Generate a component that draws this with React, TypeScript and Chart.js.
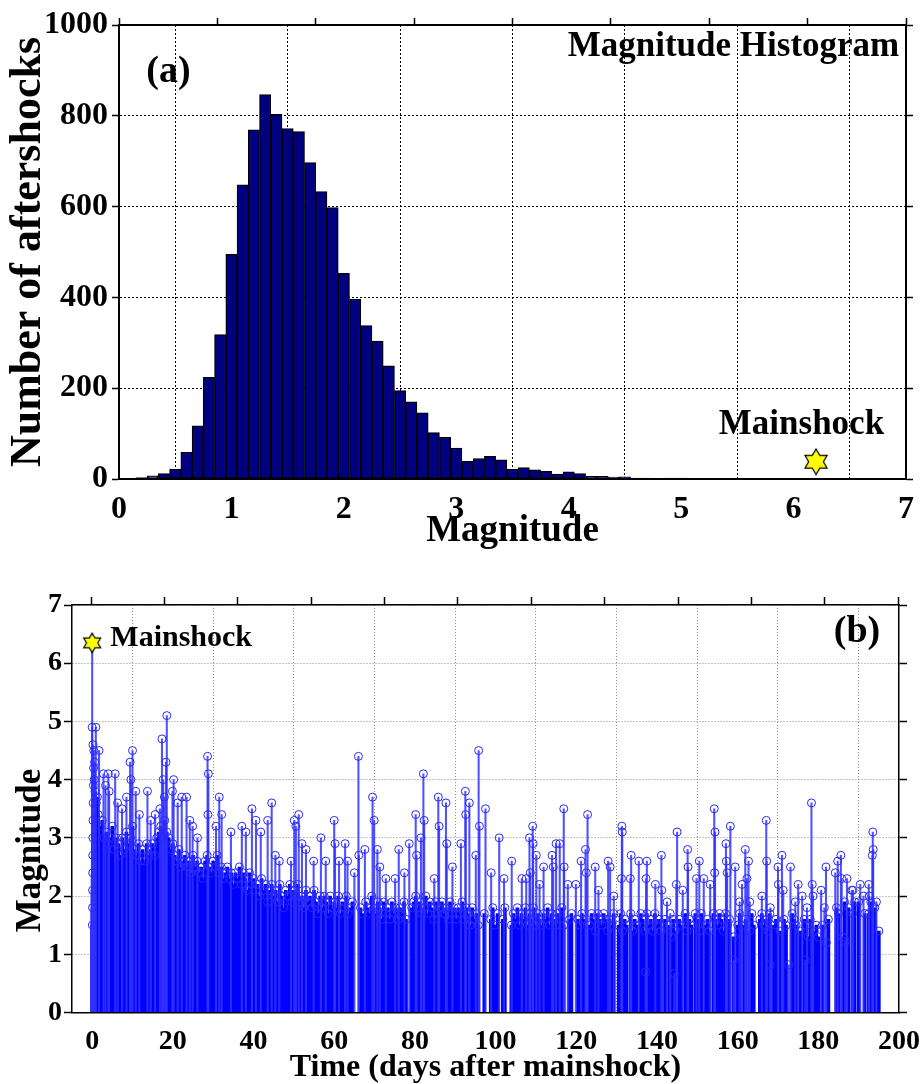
import React, { useEffect, useRef } from "react";
import { Chart, registerables } from "chart.js";
Chart.register(...registerables);

const FONT = "'Liberation Serif', 'Times New Roman', serif";

// ---------------- Panel (a): magnitude histogram ----------------
const histBinCenters = [
  0.1, 0.2, 0.3, 0.4, 0.5, 0.6, 0.7, 0.8, 0.9, 1.0,
  1.1, 1.2, 1.3, 1.4, 1.5, 1.6, 1.7, 1.8, 1.9, 2.0,
  2.1, 2.2, 2.3, 2.4, 2.5, 2.6, 2.7, 2.8, 2.9, 3.0,
  3.1, 3.2, 3.3, 3.4, 3.5, 3.6, 3.7, 3.8, 3.9, 4.0,
  4.1, 4.2, 4.3, 4.4, 4.5, 4.6, 4.7, 4.8, 4.9, 5.0, 5.1,
];
const histCounts = [
  1, 3, 7, 12, 22, 59, 117, 224, 318, 495,
  648, 769, 847, 803, 772, 765, 697, 633, 598, 453,
  396, 338, 304, 249, 195, 170, 146, 102, 92, 68,
  39, 45, 50, 42, 22, 25, 20, 17, 11, 16,
  12, 6, 6, 4, 5, 2, 2, 1, 2, 2, 1,
];
const histTicksX = [0, 1, 2, 3, 4, 5, 6, 7];
const histTicksY = [0, 200, 400, 600, 800, 1000];
const mainshockMagnitude = 6.2;
const mainshockHistLevel = 38;

// ---------------- Panel (b): magnitude vs time ----------------
const timeTicks = [0, 20, 40, 60, 80, 100, 120, 140, 160, 180, 200];
const magTicks = [0, 1, 2, 3, 4, 5, 6, 7];
const mainshockDay = 0;
const mainshockMag = 6.35;

// prominent individual events (day, magnitude)
const peakDays = [
  0.0, 0.9, 0.2, 0.4, 0.6, 1.7, 2.8, 4.0, 5.7, 4.2, 3.3, 6.3, 7.4, 8.5, 10.0, 9.4, 9.6, 10.8, 11.7, 13.7,
  14.5, 15.6, 16.8, 17.3, 18.5, 18.3, 17.6, 17.9, 20.2, 19.9, 21.2, 22.2, 23.4, 24.2, 24.9, 26.1, 28.6, 28.8, 28.7, 31.5,
  32.1, 30.7, 34.4, 37.1, 38.1, 39.6, 40.6, 41.8, 43.5, 44.5, 45.4, 46.4, 49.3, 50.1, 50.5, 51.2, 52.0, 53.0, 54.9, 56.7,
  57.9, 60.0, 60.2, 61.2, 62.7, 63.3, 65.0, 66.0, 66.1, 67.6, 69.5, 69.9, 70.7, 71.3, 72.8, 75.1, 76.0, 77.4, 78.6, 80.2,
  80.4, 81.5, 82.1, 82.3, 84.8, 85.8, 86.0, 87.7, 87.9, 89.3, 91.4, 92.5, 92.6, 93.5, 95.1, 95.8, 96.0, 97.5, 98.9,
  100.9, 102.1, 104.0, 106.5, 107.6, 108.4, 108.6, 109.2, 109.3, 110.1, 110.9, 111.9, 114.0, 114.3, 115.0, 115.9, 116.9, 117.0, 117.9, 119.9,
  121.2, 122.3, 122.8, 122.5, 124.7, 125.5, 127.9, 128.4, 129.3, 131.3, 131.4, 131.2, 133.4, 133.6, 135.5, 137.5, 137.3, 139.6, 141.1, 141.2,
  142.5, 143.3, 145.0, 144.8, 146.4, 147.6, 147.7, 149.8, 150.5, 151.6, 153.2, 154.2, 154.4, 154.3, 157.1, 157.2, 157.4, 158.2, 159.4, 160.5,
  161.1, 161.9, 162.3, 162.7, 163.0, 166.0, 167.1, 167.2, 168.1, 170.0, 170.1, 171.0, 171.3, 173.1, 174.3, 175.0, 176.0, 177.2, 178.3, 178.5,
  178.7, 180.7, 181.5, 181.9, 184.2, 184.8, 185.6, 185.8, 187.1, 188.3, 188.6, 190.4, 191.2, 192.5, 192.6, 193.5, 193.6, 193.4, 194.4,
];
const peakMags = [
  4.9, 4.9, 4.6, 4.5, 4.3, 4.5, 4.1, 4.1, 4.1, 3.8, 3.9, 3.6, 3.5, 3.7, 4.5, 4.3, 4.0, 3.8, 3.4, 3.8,
  3.3, 3.4, 3.5, 4.7, 5.1, 4.3, 4.0, 3.7, 4.0, 3.8, 3.6, 3.7, 3.7, 3.3, 3.2, 3.0, 4.4, 4.1, 3.4, 3.7,
  3.4, 3.2, 3.1, 3.2, 3.1, 3.5, 3.3, 3.1, 3.3, 3.6, 2.7, 2.6, 2.6, 3.3, 3.2, 3.4, 2.9, 2.8, 2.6, 3.0,
  2.6, 3.3, 2.9, 2.6, 2.9, 2.6, 2.4, 4.4, 2.7, 2.8, 3.7, 3.3, 2.8, 2.5, 2.3, 2.3, 2.8, 2.4, 2.9, 3.4,
  2.7, 3.0, 4.1, 3.3, 2.3, 3.7, 3.2, 3.6, 2.9, 2.5, 2.9, 3.8, 3.4, 3.6, 2.7, 4.5, 3.2, 3.5, 2.4,
  3.0, 2.3, 2.6, 2.3, 2.3, 3.0, 2.4, 3.2, 2.9, 2.7, 2.2, 2.5, 2.7, 2.5, 2.9, 2.9, 3.5, 2.5, 2.2, 2.2,
  2.6, 2.8, 3.4, 2.4, 2.5, 2.1, 2.6, 2.5, 2.0, 3.2, 3.1, 2.3, 2.3, 2.7, 2.6, 2.6, 2.3, 2.2, 2.7, 2.1,
  1.9, 1.7, 3.1, 2.2, 2.1, 2.8, 2.5, 2.3, 2.6, 2.3, 2.2, 3.5, 3.1, 2.4, 2.9, 2.6, 2.4, 3.2, 2.5, 1.9,
  2.2, 2.8, 2.3, 2.6, 1.9, 2.0, 3.3, 2.6, 1.8, 2.5, 2.2, 2.7, 2.1, 2.5, 1.9, 2.2, 2.0, 1.8, 3.6, 2.2,
  2.0, 2.1, 1.8, 2.5, 2.4, 2.6, 2.7, 2.3, 2.3, 2.1, 2.1, 2.2, 2.0, 2.2, 2.0, 3.1, 2.8, 2.7, 1.9,
];

// small events visible low in the tail
const lowDays = [137.2, 144.3, 159.0, 168.1, 172.7, 176.8, 182.0, 186.7];
const lowMags = [0.7, 0.67, 0.9, 0.82, 0.82, 0.9, 1.2, 1.22];

// dense swarm of smaller events (day, magnitude)
const swarmFirst20Days: number[][] = [
  [0.05, 1.5], [0.08, 1.8], [0.1, 2.1], [0.12, 2.4], [0.15, 2.7], [0.18, 3.0], [0.2, 3.3], [0.25, 3.6], [0.3, 3.9], [0.35, 4.2],
  [0.5, 4.0], [0.7, 3.8], [1.0, 3.6], [1.3, 3.7], [1.5, 3.4], [2.0, 3.2], [2.5, 3.3], [3.0, 3.0], [3.5, 3.1], [4.0, 2.9],
  [4.5, 3.0], [5.0, 3.2], [5.5, 2.8], [6.0, 3.0], [6.5, 2.9], [7.0, 2.7], [7.5, 3.0], [8.0, 2.8], [8.5, 3.1], [9.0, 2.9],
  [9.5, 3.0], [10.0, 3.2], [10.5, 2.8], [11.0, 2.7], [11.5, 2.9], [12.0, 2.6], [12.5, 2.8], [13.0, 2.6], [13.5, 2.9], [14.0, 2.7],
  [14.5, 2.8], [15.0, 2.9], [15.5, 2.7], [16.0, 3.0], [16.5, 3.1], [17.0, 3.2], [17.5, 3.0], [18.0, 3.3], [18.5, 3.1], [19.0, 3.0],
  [19.5, 2.8], [20.0, 2.9],
];
const swarmDays20to60: number[][] = [
  [20.5, 2.7], [21, 2.6], [21.5, 2.8], [22, 2.5], [22.5, 2.6], [23, 2.7], [23.5, 2.5], [24, 2.6], [24.5, 2.4], [25, 2.7],
  [25.5, 2.5], [26, 2.6], [26.5, 2.4], [27, 2.5], [27.5, 2.3], [28, 2.6], [28.5, 2.7], [29, 2.5], [29.5, 2.4], [30, 2.6],
  [30.5, 2.5], [31, 2.7], [31.5, 2.4], [32, 2.5], [32.5, 2.3], [33, 2.4], [33.5, 2.5], [34, 2.3], [34.5, 2.4], [35, 2.2],
  [35.5, 2.4], [36, 2.3], [36.5, 2.5], [37, 2.2], [37.5, 2.4], [38, 2.3], [38.5, 2.1], [39, 2.4], [39.5, 2.2], [40, 2.3],
  [40.5, 2.1], [41, 2.2], [41.5, 2.0], [42, 2.3], [42.5, 2.1], [43, 2.2], [43.5, 1.9], [44, 2.1], [44.5, 2.2], [45, 2.0],
  [45.5, 2.1], [46, 1.9], [46.5, 2.2], [47, 2.0], [47.5, 1.8], [48, 2.1], [48.5, 2.0], [49, 2.2], [49.5, 1.9], [50, 2.1],
  [50.5, 2.0], [51, 2.2], [51.5, 1.9], [52, 2.0], [52.5, 1.8], [53, 2.1], [53.5, 1.9], [54, 2.0], [54.5, 1.8], [55, 2.1],
  [55.5, 1.9], [56, 1.7], [56.5, 2.0], [57, 1.8], [57.5, 2.0], [58, 1.9], [58.5, 1.7], [59, 2.0], [59.5, 1.8], [60, 1.9],
];
const swarmDays60to100: number[][] = [
  [60.5, 1.8], [61, 2.0], [61.5, 1.7], [62, 1.9], [62.5, 1.8], [63, 2.0], [63.5, 1.7], [64, 1.8], [64.5, 1.9], [66.5, 1.8],
  [67, 1.7], [67.8, 1.9], [68.3, 1.8], [68.8, 1.7], [69.3, 2.0], [69.8, 1.8], [70.3, 1.7], [70.8, 1.9], [71.3, 1.8], [71.8, 1.6],
  [72.3, 1.9], [72.8, 1.7], [73.3, 1.8], [73.8, 1.6], [74.3, 1.9], [74.8, 1.7], [75.3, 1.8], [75.8, 1.6], [76.3, 1.8], [76.8, 1.7],
  [77.3, 1.9], [77.8, 1.6], [79.2, 1.8], [79.7, 1.9], [80.2, 2.0], [80.7, 1.8], [81.2, 1.9], [81.7, 1.7], [82.2, 1.8], [82.7, 2.0],
  [83.2, 1.7], [83.7, 1.9], [84.2, 1.8], [84.7, 1.6], [85.2, 1.9], [85.7, 1.7], [86.2, 1.8], [86.7, 1.9], [87.2, 1.7], [87.7, 1.8],
  [88.2, 1.6], [88.7, 1.9], [89.2, 1.7], [89.7, 1.8], [90.2, 1.6], [90.7, 1.8], [91.2, 1.7], [91.7, 1.9], [92.2, 1.6], [92.7, 1.8],
  [93.2, 1.7], [93.7, 1.5], [94.2, 1.8], [94.7, 1.6], [95.2, 1.7], [95.7, 1.5], [97.2, 1.7], [98.8, 1.6], [99.3, 1.8], [99.8, 1.5],
];
const swarmDays100to130: number[][] = [
  [100.5, 1.7], [101.8, 1.6], [102.3, 1.8], [103.9, 1.5], [104.4, 1.7], [104.9, 1.6], [105.4, 1.8], [105.9, 1.5], [106.4, 1.7], [106.9, 1.6],
  [107.4, 1.8], [107.9, 1.5], [108.4, 1.7], [108.9, 1.6], [109.4, 1.8], [109.9, 1.5], [110.4, 1.7], [110.9, 1.6], [111.4, 1.5], [111.9, 1.7],
  [112.4, 1.6], [112.9, 1.8], [113.4, 1.5], [113.9, 1.7], [114.4, 1.6], [114.9, 1.5], [115.4, 1.7], [115.9, 1.6], [116.4, 1.8], [116.9, 1.5],
  [118.3, 1.6], [118.8, 1.7], [120.4, 1.6], [120.9, 1.5], [121.4, 1.7], [121.9, 1.6], [123.3, 1.5], [123.8, 1.7], [124.3, 1.6], [124.8, 1.4],
  [125.3, 1.7], [125.8, 1.6], [126.3, 1.5], [126.8, 1.7], [127.3, 1.6], [127.8, 1.4], [128.3, 1.6], [128.8, 1.5], [129.3, 1.7],
];
const swarmDays130to195: number[][] = [
  [130.5, 1.5], [131, 1.7], [131.5, 1.4], [132, 1.6], [132.5, 1.5], [133.5, 1.7], [134, 1.4], [134.5, 1.6], [135, 1.5], [136, 1.7],
  [136.5, 1.6], [137, 1.4], [137.5, 1.7], [138, 1.5], [138.5, 1.6], [139, 1.4], [139.5, 1.7], [140, 1.5], [140.5, 1.6], [141, 1.4],
  [142, 1.6], [143, 1.5], [143.5, 1.3], [144, 1.6], [144.5, 1.4], [145.5, 1.6], [146, 1.5], [147, 1.7], [147.5, 1.4], [148, 1.6],
  [148.5, 1.5], [149.5, 1.7], [150, 1.6], [150.5, 1.4], [151, 1.7], [152, 1.5], [152.5, 1.6], [153, 1.4], [154, 1.7], [154.5, 1.6],
  [155, 1.5], [155.5, 1.7], [156, 1.6], [156.5, 1.4], [157, 1.7], [157.5, 1.5], [158, 1.6], [159, 1.3], [160, 1.5], [160.5, 1.7],
  [161.5, 1.5], [162, 1.6], [163, 1.4], [163.5, 1.7], [164, 1.5], [165.5, 1.6], [166, 1.7], [166.5, 1.5], [167, 1.6], [167.5, 1.4],
  [168, 1.7], [169, 1.5], [169.5, 1.6], [170.5, 1.4], [171.5, 1.6], [172, 1.5], [173.5, 1.7], [174, 1.6], [174.5, 1.5], [175.5, 1.4],
  [176.5, 1.6], [177, 1.5], [177.5, 1.3], [178, 1.6], [179, 1.4], [179.5, 1.5], [180, 1.3], [181, 1.5], [182.5, 1.6], [184.5, 1.8],
  [185, 1.7], [186, 1.3], [186.5, 1.9], [187.5, 1.8], [188.5, 1.7], [189, 1.9], [190, 1.9], [191.5, 1.7], [192.5, 1.7], [193, 1.9],
  [194, 1.8], [195, 1.4],
];

// ---------------- helpers ----------------
function makeStar(size: number): HTMLCanvasElement {
  const c = document.createElement("canvas");
  c.width = size;
  c.height = size;
  const ctx = c.getContext("2d")!;
  const cx = size / 2;
  const cy = size / 2;
  const R = size / 2 - 1.2;
  const r = R / Math.sqrt(3);
  ctx.beginPath();
  for (let i = 0; i < 12; i++) {
    const ang = -Math.PI / 2 + (i * Math.PI) / 6;
    const rad = i % 2 === 0 ? R : r;
    const px = cx + rad * Math.cos(ang);
    const py = cy + rad * Math.sin(ang);
    if (i === 0) ctx.moveTo(px, py);
    else ctx.lineTo(px, py);
  }
  ctx.closePath();
  ctx.fillStyle = "#ffff00";
  ctx.fill();
  ctx.lineWidth = 1.2;
  ctx.strokeStyle = "#000000";
  ctx.stroke();
  return c;
}

type Note = { text: string; x: number; y: number; size: number; align: CanvasTextAlign };
function notesPlugin(id: string, notes: Note[]) {
  return {
    id,
    afterDraw(chart: any) {
      const { ctx, scales } = chart;
      const xs = scales.x;
      const ys = scales.y;
      notes.forEach((n) => {
        ctx.save();
        ctx.font = `bold ${n.size}px ${FONT}`;
        ctx.fillStyle = "#000";
        ctx.textAlign = n.align;
        ctx.textBaseline = "middle";
        ctx.fillText(n.text, xs.getPixelForValue(n.x), ys.getPixelForValue(n.y));
        ctx.restore();
      });
    },
  };
}

// vertical axis title drawn at a given offset from the chart area
function sideTitlePlugin(id: string, text: string, size: number, xPx: number, yFromBottom: number) {
  return {
    id,
    afterDraw(chart: any) {
      const { ctx, chartArea } = chart;
      ctx.save();
      ctx.translate(xPx, chartArea.bottom - yFromBottom);
      ctx.rotate(-Math.PI / 2);
      ctx.font = `bold ${size}px ${FONT}`;
      ctx.fillStyle = "#000";
      ctx.textAlign = "center";
      ctx.textBaseline = "middle";
      ctx.fillText(text, 0, 0);
      ctx.restore();
    },
  };
}

const fixTicks = (values: number[]) => (s: any) => {
  s.ticks = values.map((v) => ({ value: v }));
};
const plainLabel = (v: any) => String(v);

function configA(): any {
  const bars = histBinCenters.map((m, i) => ({ x: m, y: histCounts[i] }));
  const tickFont = { family: FONT, size: 32, weight: "bold" };
  return {
    type: "bar",
    data: {
      datasets: [
        {
          type: "scatter",
          data: [{ x: mainshockMagnitude, y: mainshockHistLevel }],
          pointStyle: makeStar(28),
          pointRadius: 14,
          order: 0,
        },
        {
          type: "bar",
          data: bars,
          backgroundColor: "#000080",
          borderColor: "#000000",
          borderWidth: 1.3,
          borderSkipped: false,
          barPercentage: 1,
          categoryPercentage: 1,
          grouped: false,
          order: 1,
        },
      ],
    },
    options: {
      responsive: false,
      animation: false,
      events: [],
      layout: { padding: 0 },
      plugins: { legend: { display: false }, tooltip: { enabled: false } },
      scales: {
        x: {
          type: "linear",
          position: "bottom",
          min: 0,
          max: 7,
          offset: false,
          afterBuildTicks: fixTicks(histTicksX),
          grid: { color: "#000", lineWidth: 1, drawTicks: false },
          border: { color: "#000", width: 2, dash: [2, 2], z: 1 },
          ticks: { font: tickFont, color: "#000", padding: 12, maxRotation: 0, autoSkip: false, callback: plainLabel },
          title: {
            display: true,
            text: "Magnitude",
            color: "#000",
            font: { family: FONT, size: 37, weight: "bold", lineHeight: 1 },
            padding: { top: 0, bottom: 5 },
          },
          afterFit: (s: any) => {
            s.height = 76;
            s.paddingLeft = 0;
            s.paddingRight = 0;
          },
        },
        x2: {
          type: "linear",
          position: "top",
          min: 0,
          max: 7,
          afterBuildTicks: fixTicks(histTicksX),
          grid: { drawOnChartArea: false, drawTicks: true, tickLength: 7, tickColor: "#000", tickWidth: 1.5 },
          border: { color: "#000", width: 2, z: 1 },
          ticks: { display: false },
          afterFit: (s: any) => {
            s.height = 25;
            s.paddingLeft = 0;
            s.paddingRight = 0;
          },
        },
        y: {
          type: "linear",
          position: "left",
          min: 0,
          max: 1000,
          afterBuildTicks: fixTicks(histTicksY),
          grid: { color: "#000", lineWidth: 1, drawTicks: true, tickLength: 7, tickColor: "#000", tickWidth: 1.5 },
          border: { color: "#000", width: 2, dash: [2, 2], z: 1 },
          ticks: { font: tickFont, color: "#000", padding: 4, callback: plainLabel },
          title: {
            display: true,
            text: "Number of aftershocks",
            color: "#000",
            font: { family: FONT, size: 44, weight: "bold", lineHeight: 1 },
            padding: { top: 7, bottom: 0 },
          },
          afterFit: (s: any) => {
            s.width = 119;
          },
        },
        y2: {
          type: "linear",
          position: "right",
          min: 0,
          max: 1000,
          afterBuildTicks: fixTicks(histTicksY),
          grid: { drawOnChartArea: false, drawTicks: true, tickLength: 7, tickColor: "#000", tickWidth: 1.5 },
          border: { color: "#000", width: 2, z: 1 },
          ticks: { display: false },
          afterFit: (s: any) => {
            s.width = 11;
          },
        },
      },
    },
    plugins: [
      notesPlugin("notesA", [
        { text: "(a)", x: 0.44, y: 896, size: 38, align: "center" },
        { text: "Magnitude Histogram", x: 6.94, y: 951, size: 35, align: "right" },
        { text: "Mainshock", x: 6.07, y: 119, size: 35, align: "center" },
      ]),
    ],
  };
}

function configB(): any {
  const swarm = [
    ...swarmFirst20Days,
    ...swarmDays20to60,
    ...swarmDays60to100,
    ...swarmDays100to130,
    ...swarmDays130to195,
  ].map(([d, m]) => ({ x: d, y: m }));
  const peaks = peakDays.map((d, i) => ({ x: d, y: peakMags[i] }));
  const lows = lowDays.map((d, i) => ({ x: d, y: lowMags[i] }));
  const mainshock = [{ x: mainshockDay, y: mainshockMag }];
  const tickFont = { family: FONT, size: 28, weight: "bold" };
  return {
    type: "bar",
    data: {
      datasets: [
        {
          type: "scatter",
          data: mainshock,
          pointStyle: makeStar(22),
          pointRadius: 11,
          order: 0,
        },
        {
          type: "scatter",
          data: [...swarm, ...peaks, ...lows],
          pointStyle: "circle",
          pointRadius: 4,
          pointBorderWidth: 1,
          pointBorderColor: "#2828ff",
          pointBackgroundColor: "rgba(0,0,0,0)",
          order: 1,
        },
        {
          type: "bar",
          data: [...peaks, ...lows, ...mainshock],
          backgroundColor: "rgba(50,50,255,0.85)",
          barThickness: 1.4,
          borderWidth: 0,
          grouped: false,
          order: 2,
        },
        {
          type: "bar",
          data: swarm,
          backgroundColor: "#0000ff",
          barThickness: 3,
          borderWidth: 0,
          grouped: false,
          order: 3,
        },
      ],
    },
    options: {
      responsive: false,
      animation: false,
      events: [],
      layout: { padding: 0 },
      plugins: { legend: { display: false }, tooltip: { enabled: false } },
      scales: {
        x: {
          type: "linear",
          position: "bottom",
          min: -5,
          max: 200,
          offset: false,
          afterBuildTicks: fixTicks(timeTicks),
          grid: { color: "#8a8a8a", lineWidth: 1, drawTicks: false },
          border: { color: "#000", width: 1.5, dash: [1, 2], z: 1 },
          ticks: { font: tickFont, color: "#000", padding: 12, maxRotation: 0, autoSkip: false, callback: plainLabel },
          title: {
            display: true,
            text: "Time (days after mainshock)",
            color: "#000",
            font: { family: FONT, size: 32, weight: "bold", lineHeight: 1 },
            padding: { top: 0, bottom: 0 },
          },
          afterFit: (s: any) => {
            s.height = 71.5;
            s.paddingLeft = 0;
            s.paddingRight = 0;
          },
        },
        x2: {
          type: "linear",
          position: "top",
          min: -5,
          max: 200,
          afterBuildTicks: fixTicks(timeTicks),
          grid: { drawOnChartArea: false, drawTicks: true, tickLength: 8, tickColor: "#000", tickWidth: 1.5 },
          border: { color: "#000", width: 1.5, z: 1 },
          ticks: { display: false },
          afterFit: (s: any) => {
            s.height = 45;
            s.paddingLeft = 0;
            s.paddingRight = 0;
          },
        },
        y: {
          type: "linear",
          position: "left",
          min: 0,
          max: 7,
          afterBuildTicks: fixTicks(magTicks),
          grid: { color: "#8a8a8a", lineWidth: 1, drawTicks: true, tickLength: 8, tickColor: "#000", tickWidth: 1.5 },
          border: { color: "#000", width: 1.5, dash: [1, 2], z: 1 },
          ticks: { font: tickFont, color: "#000", padding: 2, callback: plainLabel },
          title: { display: false, text: "Magnitude" },
          afterFit: (s: any) => {
            s.width = 72;
          },
        },
        y2: {
          type: "linear",
          position: "right",
          min: 0,
          max: 7,
          afterBuildTicks: fixTicks(magTicks),
          grid: { drawOnChartArea: false, drawTicks: true, tickLength: 8, tickColor: "#000", tickWidth: 1.5 },
          border: { color: "#000", width: 1.5, z: 1 },
          ticks: { display: false },
          afterFit: (s: any) => {
            s.width = 22;
          },
        },
      },
    },
    plugins: [
      notesPlugin("notesB", [
        { text: "Mainshock", x: 4.5, y: 6.43, size: 30, align: "left" },
        { text: "(b)", x: 189.6, y: 6.54, size: 38, align: "center" },
      ]),
      sideTitlePlugin("yTitleB", "Magnitude", 35, 31, 162),
    ],
  };
}

export default function App() {
  const refA = useRef<HTMLCanvasElement>(null);
  const refB = useRef<HTMLCanvasElement>(null);
  useEffect(() => {
    const a = new Chart(refA.current!, configA());
    const b = new Chart(refB.current!, configB());
    return () => {
      a.destroy();
      b.destroy();
    };
  }, []);
  return (
    <div style={{ position: "absolute", left: 0, top: 0, width: 921, height: 1084, background: "#fff" }}>
      <canvas ref={refA} width={921} height={555} style={{ position: "absolute", left: 0, top: 0 }} />
      <canvas ref={refB} width={921} height={524} style={{ position: "absolute", left: 0, top: 560 }} />
    </div>
  );
}
